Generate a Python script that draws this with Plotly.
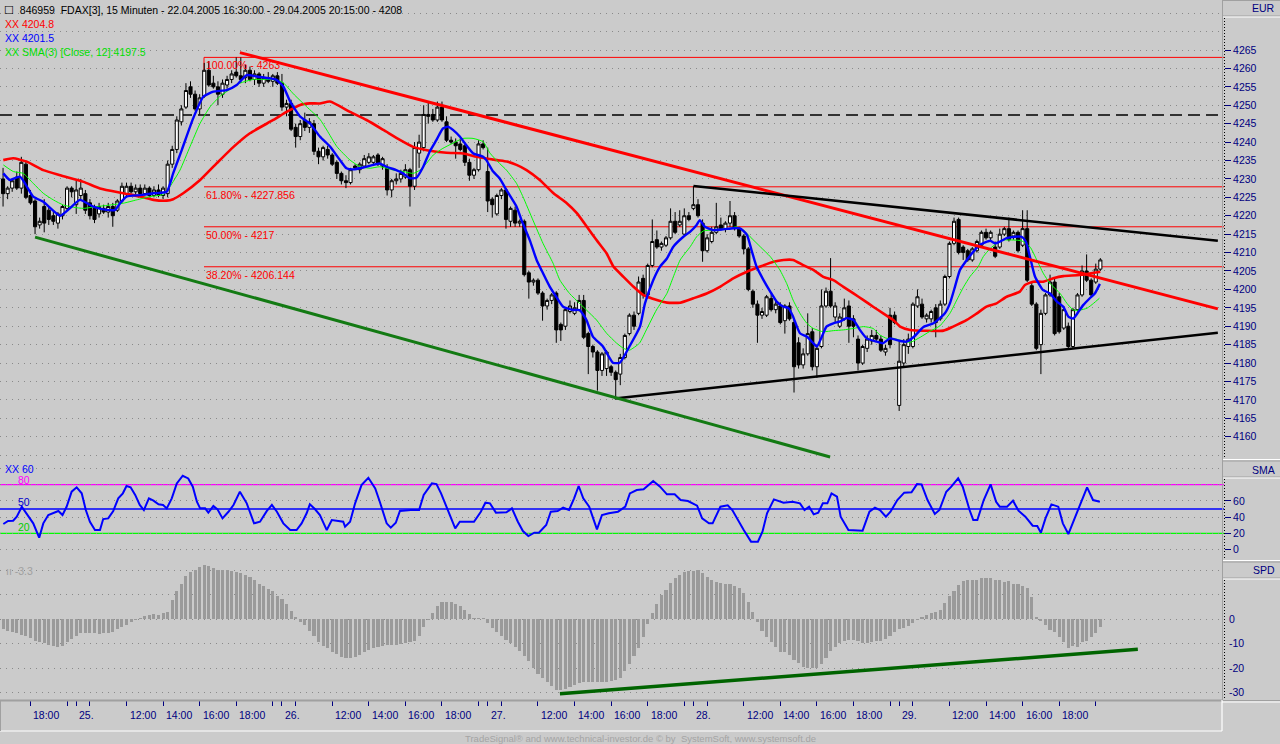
import plotly.graph_objects as go

FONT = "Liberation Sans, Arial, sans-serif"
NAVY = "#000080"
BG = "#CBCBCB"
GRID = "#8A8A8A"

# ---------------- data: 15-minute FDAX bars ----------------
bar_open = [
 4230, 4226, 4227.5, 4230.5, 4227.5, 4234, 4225.5, 4224, 4217.5, 4222.5,
 4221.5, 4220, 4218, 4220, 4222, 4227.5, 4223, 4225.5, 4226, 4223.5,
 4222, 4220.5, 4222, 4221, 4222.5, 4221.5, 4224, 4226, 4228, 4226.5,
 4227.5, 4226, 4227.5, 4225.5, 4227, 4225.5, 4226, 4234, 4238, 4245.5,
 4249.5, 4255, 4253, 4249, 4252.5, 4259.5, 4256, 4255, 4253, 4255.5,
 4257, 4259, 4258, 4257.5, 4259.5, 4257, 4258.5, 4256, 4257.5, 4256.5,
 4258, 4256, 4249.5, 4250.5, 4244, 4241.5, 4246, 4244, 4245, 4237.5,
 4236, 4238, 4236.5, 4234.5, 4231.5, 4229.5, 4229, 4233.5, 4232.5, 4233.5,
 4234.5, 4234.5, 4236.5, 4233.5, 4233, 4227, 4229.5, 4230, 4230.5, 4232.5,
 4228, 4237, 4238.5, 4247.5, 4247.5, 4246, 4249.5, 4245.5, 4240.5, 4240,
 4239.5, 4239, 4234.5, 4231, 4232.5, 4239.5, 4232, 4224.5, 4220.5, 4225.5,
 4227, 4218.5, 4221.5, 4218, 4218.5, 4204.5, 4202, 4202.5, 4199, 4195.5,
 4197, 4199, 4190.5, 4190, 4194, 4193.5, 4194.5, 4197, 4188, 4184.5,
 4183, 4178, 4178.5, 4179, 4177.5, 4177, 4181.5, 4188, 4193, 4193.5,
 4203, 4198.5, 4206.5, 4213.5, 4211.5, 4212, 4214, 4218.5, 4217.5, 4215,
 4220, 4222, 4223, 4218, 4210.5, 4213, 4215.5, 4217.5, 4216.5, 4218,
 4220, 4216.5, 4214.5, 4211, 4199.5, 4196, 4193, 4193, 4197.5, 4194.5,
 4195.5, 4191.5, 4195.5, 4191, 4185.5, 4179.5, 4182.5, 4188.5, 4179, 4184.5,
 4195.5, 4199.5, 4192.5, 4190, 4192, 4195.5, 4192, 4186.5, 4180, 4184,
 4186, 4187.5, 4186.5, 4183, 4193, 4193, 4168.5, 4180, 4184.5, 4184.5,
 4195.5, 4196, 4192, 4192, 4195, 4192, 4196, 4203.5, 4212.5, 4219,
 4211.5, 4210.5, 4208, 4210.5, 4212, 4215.5, 4214, 4211.5, 4211.5, 4215,
 4216.5, 4214.5, 4215.5, 4212, 4216.5, 4201, 4196, 4185, 4193.5, 4198.5,
 4202, 4198, 4189.5, 4190, 4184.5, 4194.5, 4198.5, 4205, 4202.5, 4202,
 4205.5]
bar_high = [
 4233, 4228, 4230, 4232, 4236, 4235, 4227, 4224.5, 4219.5, 4224.5,
 4222.5, 4221, 4221, 4223, 4228, 4228, 4229.5, 4230, 4227, 4224.5,
 4223, 4223.5, 4223, 4223.5, 4223.5, 4224.5, 4229, 4229, 4229, 4228.5,
 4228.5, 4228.5, 4228, 4228, 4228.5, 4228, 4235, 4239, 4247, 4250,
 4256, 4256.5, 4254, 4253, 4261.5, 4262, 4258, 4256.5, 4257, 4258,
 4259.5, 4263, 4263, 4261, 4260.5, 4259.5, 4259, 4258.5, 4259, 4258.5,
 4259, 4258.5, 4251.5, 4251.5, 4245, 4246, 4248, 4246.5, 4246, 4238.5,
 4239, 4239, 4237, 4235, 4232, 4231, 4233, 4234, 4234.5, 4236.5,
 4237, 4236.5, 4237, 4236, 4234, 4230, 4231.5, 4232.5, 4234, 4233,
 4240, 4242, 4250, 4251, 4249, 4251, 4251, 4247, 4241.5, 4241,
 4241, 4240, 4235.5, 4233, 4240.5, 4240.5, 4238.5, 4225, 4226, 4227.5,
 4227.5, 4222.5, 4222.5, 4219, 4219, 4205, 4203, 4203, 4199.5, 4197.5,
 4199, 4199.5, 4191, 4195, 4197, 4196.5, 4198.5, 4198.5, 4188.5, 4185,
 4183.5, 4183, 4183.5, 4179.5, 4178, 4182.5, 4188, 4193.5, 4194, 4203.5,
 4204, 4207, 4219, 4216, 4213, 4214.5, 4222, 4221, 4221.5, 4222,
 4221, 4228, 4224.5, 4219, 4215, 4217, 4223.5, 4219.5, 4218.5, 4224,
 4221, 4217, 4215, 4211.5, 4200, 4197, 4195, 4198.5, 4199, 4197,
 4196.5, 4196, 4196.5, 4192, 4187, 4184, 4193.5, 4189.5, 4185, 4200,
 4200.5, 4208.5, 4196.5, 4193.5, 4197.5, 4197, 4193, 4187.5, 4185, 4187.5,
 4189, 4189, 4187.5, 4185, 4195, 4194, 4186, 4186.5, 4188, 4196.5,
 4200, 4197.5, 4193.5, 4194.5, 4196, 4197, 4204, 4213, 4219.5, 4219.5,
 4212, 4211, 4211.5, 4213.5, 4216, 4216.5, 4216, 4213, 4216.5, 4217,
 4219.5, 4216, 4216, 4221.5, 4221.5, 4202, 4196.5, 4194.5, 4199, 4204,
 4203, 4199, 4195.5, 4191, 4195, 4199, 4206.5, 4209.5, 4203, 4207,
 4208.5]
bar_low = [
 4222.5, 4224.5, 4226.5, 4227, 4226, 4224.5, 4223, 4215, 4216.5, 4215.5,
 4217.5, 4217.5, 4216.5, 4219, 4221.5, 4225, 4220.5, 4224.5, 4220.5, 4219,
 4218, 4219.5, 4220.5, 4219.5, 4217, 4221, 4223.5, 4225, 4226, 4225.5,
 4225.5, 4225.5, 4225, 4225, 4225, 4224.5, 4225, 4233, 4237, 4244.5,
 4249, 4252, 4248.5, 4247.5, 4252, 4255, 4254.5, 4250, 4252, 4254.5,
 4256, 4257.5, 4256, 4256, 4256.5, 4255.5, 4255, 4255, 4256, 4255,
 4255.5, 4248.5, 4247, 4243, 4238.5, 4240.5, 4243, 4242.5, 4236.5, 4234,
 4235, 4235.5, 4233.5, 4230, 4228.5, 4227.5, 4228.5, 4232.5, 4231.5, 4233,
 4234, 4233.5, 4233.5, 4232.5, 4225.5, 4225, 4228.5, 4229, 4230, 4222.5,
 4227, 4233, 4237.5, 4245, 4245.5, 4245.5, 4245.5, 4240, 4239.5, 4235.5,
 4237.5, 4233.5, 4229.5, 4230, 4232, 4238, 4221, 4219.5, 4220, 4224.5,
 4216.5, 4217, 4217, 4217, 4203.5, 4197.5, 4201, 4198.5, 4191.5, 4194.5,
 4196, 4185.5, 4186, 4189, 4193.5, 4193, 4194, 4186.5, 4177, 4181.5,
 4172.5, 4176.5, 4176.5, 4176.5, 4170.5, 4174, 4181, 4187.5, 4189, 4193,
 4197.5, 4197.5, 4206, 4211, 4210.5, 4211.5, 4213.5, 4215, 4217, 4214.5,
 4218.5, 4221.5, 4219.5, 4207.5, 4210, 4212.5, 4215, 4216, 4215.5, 4217,
 4216, 4214, 4209.5, 4199.5, 4195, 4185.5, 4192, 4192.5, 4194, 4193.5,
 4190.5, 4188, 4191.5, 4172, 4178.5, 4178.5, 4182, 4178, 4176, 4184,
 4195, 4195, 4191, 4189.5, 4191.5, 4185.5, 4187, 4178, 4179.5, 4183,
 4185, 4186, 4183, 4182, 4184, 4190.5, 4167, 4179, 4182.5, 4184,
 4195, 4192, 4191, 4191, 4187, 4191.5, 4195.5, 4203, 4212, 4209.5,
 4208, 4207.5, 4207.5, 4210, 4211.5, 4213.5, 4213, 4208.5, 4211, 4214.5,
 4213, 4213.5, 4210, 4211.5, 4202, 4195.5, 4183.5, 4177, 4193, 4198,
 4187.5, 4188, 4189, 4184, 4184, 4194, 4198, 4202, 4198, 4201.5,
 4205]
bar_close = [
 4226, 4227.5, 4229.5, 4227.5, 4234.5, 4225, 4223.5, 4217, 4218.5, 4218,
 4219, 4218.5, 4220.5, 4222.5, 4227.5, 4226.5, 4227, 4227.5, 4221.5, 4220,
 4219, 4222.5, 4221, 4222.5, 4220, 4224, 4228, 4228, 4226.5, 4227.5,
 4226, 4227.5, 4225.5, 4227, 4225.5, 4227.5, 4234, 4238, 4246, 4249,
 4254, 4253, 4249, 4252, 4259.5, 4255.5, 4255, 4253, 4256, 4257,
 4258.5, 4258, 4257, 4259.5, 4257, 4258.5, 4256, 4257.5, 4256.5, 4258,
 4256, 4249.5, 4250.5, 4243.5, 4241.5, 4245, 4244, 4245.5, 4237.5, 4236,
 4238.5, 4236.5, 4234, 4231.5, 4229.5, 4229, 4232.5, 4233, 4234, 4235.5,
 4236, 4236, 4234, 4235.5, 4227, 4229.5, 4230, 4231.5, 4232.5, 4228,
 4238.5, 4240, 4247.5, 4247, 4246, 4249.5, 4246, 4240.5, 4240, 4239,
 4238, 4234.5, 4231, 4232.5, 4239.5, 4238.5, 4224, 4223, 4225.5, 4227,
 4219, 4222, 4218, 4218.5, 4204, 4202, 4202.5, 4199, 4195.5, 4197,
 4198.5, 4189, 4189, 4194.5, 4195.5, 4195, 4197, 4187, 4184.5, 4183,
 4178, 4182.5, 4183, 4177.5, 4175.5, 4181.5, 4187.5, 4193, 4190, 4202,
 4198.5, 4206.5, 4213, 4211.5, 4212.5, 4214, 4218.5, 4215.5, 4218.5, 4220,
 4219, 4223, 4220, 4210.5, 4214, 4215.5, 4217, 4216.5, 4218, 4220,
 4216.5, 4214.5, 4211, 4200, 4196, 4193, 4194, 4198, 4194.5, 4196,
 4191, 4195.5, 4192, 4179, 4179.5, 4182.5, 4188, 4179, 4184, 4195.5,
 4199.5, 4195.5, 4195.5, 4192.5, 4195, 4190, 4190, 4180, 4184.5, 4186.5,
 4187.5, 4186.5, 4183.5, 4184, 4185, 4191, 4180.5, 4185, 4186.5, 4196,
 4198, 4192.5, 4193, 4194, 4191, 4196, 4203.5, 4212.5, 4218.5, 4210,
 4210, 4208, 4211, 4213, 4215.5, 4214, 4215.5, 4209, 4215, 4216.5,
 4213.5, 4215.5, 4210.5, 4216.5, 4202.5, 4196, 4184, 4193.5, 4198.5, 4202,
 4188, 4188.5, 4194.5, 4184.5, 4194.5, 4198.5, 4205, 4202.5, 4198.5, 4205.5,
 4208]

# SPD histogram (one value per bar)
spd_values = [
 -3.9, -4.6, -5.3, -5.7, -6.3, -6.7, -7.6, -8.8, -9.4, -9.9,
 -10.4, -11.0, -11.3, -11.1, -9.4, -8.1, -6.7, -5.7, -5.7, -5.7,
 -5.7, -6.0, -5.7, -5.7, -5.3, -3.9, -3.2, -2.2, -1.1, -0.4,
 0.7, 1.3, 1.7, 2.1, 1.9, 2.4, 3.1, 7.9, 11.4, 14.6,
 17.6, 19.3, 20.4, 21.4, 22.1, 21.8, 21.1, 20.4, 20.0, 20.0,
 19.9, 19.3, 18.8, 18.3, 17.2, 16.0, 14.6, 13.8, 12.4, 11.4,
 9.7, 8.2, 6.3, 3.5, 1.0, -1.1, -2.5, -4.6, -6.7, -9.4,
 -10.8, -11.8, -13.2, -14.3, -15.4, -15.7, -15.7, -15.4, -14.7, -13.6,
 -12.6, -11.8, -11.3, -10.8, -10.7, -10.7, -10.4, -10.1, -9.9, -9.2,
 -8.8, -6.7, -3.2, -0.4, 2.4, 5.4, 7.1, 7.1, 7.1, 6.1,
 5.4, 3.8, 2.1, 0.7, 0.7, 0.7, -1.5, -3.6, -5.3, -6.7,
 -8.5, -9.9, -11.5, -12.9, -15.0, -17.1, -19.9, -22.4, -24.0, -25.7,
 -27.5, -28.9, -29.0, -28.5, -27.9, -26.8, -26.1, -25.7, -25.7, -25.7,
 -25.7, -25.7, -25.7, -25.4, -24.9, -24.0, -21.3, -18.2, -15.0, -11.8,
 -7.1, -2.1, 2.6, 6.3, 9.9, 12.1, 14.9, 16.9, 18.3, 19.3,
 19.6, 19.7, 20.4, 19.0, 17.4, 16.3, 15.1, 14.9, 14.6, 14.3,
 13.8, 12.8, 10.7, 7.2, 3.1, -1.1, -4.9, -7.1, -9.4, -11.3,
 -13.2, -13.6, -14.6, -16.5, -17.8, -19.6, -20.1, -20.1, -19.9, -18.5,
 -15.7, -12.9, -11.3, -9.9, -8.8, -8.5, -8.5, -9.0, -9.9, -9.7,
 -9.4, -9.0, -8.8, -8.1, -6.7, -5.3, -3.9, -3.5, -2.9, -1.5,
 -0.4, 1.0, 1.9, 2.4, 3.1, 4.0, 6.5, 9.6, 11.4, 14.2,
 15.6, 16.3, 16.3, 16.3, 16.9, 16.9, 16.9, 16.0, 16.0, 15.1,
 15.6, 14.6, 14.6, 13.5, 12.8, 9.3, 1.0, -0.7, -2.5, -4.3,
 -5.3, -7.4, -9.4, -11.8, -10.8, -11.3, -9.4, -8.8, -7.1, -5.7,
 -3.3]

# indicator lines (bar position, value)
red_ma_x = [0.05, 2.2, 5.2, 8.8, 12.5, 17.6, 21.2, 26.3, 30.0, 32.9, 35.8, 37.2, 39.4, 43.1, 46.7,
            50.4, 54.0, 59.1, 62.0, 65.0, 67.1, 69.3, 71.5, 75.9, 79.5, 83.2, 86.8, 89.7, 92.7,
            97.0, 100.7, 103.6, 108.0, 110.2, 112.3, 114.5, 117.4, 120.4, 123.3, 125.5, 127.7,
            129.8, 132.0, 133.5, 135.7, 137.9, 140.0, 143.0, 145.2, 148.1, 151.0, 153.9, 156.8,
            159.7, 162.7, 165.6, 168.5, 170.7, 172.8, 175.0, 177.2, 179.4, 181.6, 183.8, 186.0,
            188.2, 190.3, 192.5, 194.7, 196.2, 198.4, 205.7, 207.8, 210.8, 213.0, 215.1, 217.3,
            219.5, 222.4, 223.5, 225.3, 227.5, 229.7, 231.9, 235.5, 240.0]
red_ma_y = [4235.1, 4235.6, 4234.7, 4232.4, 4231.0, 4229.2, 4227.4, 4226.1, 4225.2, 4224.3, 4224.1,
            4224.5, 4226.1, 4229.7, 4234.2, 4238.7, 4242.4, 4246.0, 4248.2, 4250.1, 4250.5, 4250.5,
            4251.0, 4248.2, 4246.0, 4243.3, 4240.6, 4238.7, 4237.8, 4237.1, 4236.9, 4236.0, 4235.1,
            4234.7, 4233.8, 4232.4, 4229.7, 4226.1, 4223.4, 4220.7, 4217.0, 4213.4, 4209.8, 4206.2,
            4203.4, 4200.7, 4198.5, 4197.1, 4196.4, 4196.4, 4197.6, 4198.9, 4200.7, 4203.0, 4204.8,
            4206.2, 4207.5, 4208.0, 4208.0, 4206.6, 4205.3, 4203.4, 4202.5, 4200.7, 4198.9, 4197.1,
            4195.3, 4193.5, 4191.7, 4189.9, 4189.0, 4188.8, 4189.9, 4191.7, 4193.5, 4195.3, 4196.2,
            4198.0, 4199.4, 4201.2, 4202.1, 4202.1, 4203.0, 4203.6, 4203.9, 4204.8]

blue_ma_x = [0.06, 1.5, 3.7, 6.6, 8.8, 12.5, 14.6, 16.8, 19.7, 22.7, 24.5, 25.6, 27.0, 30.0, 32.9,
             35.8, 37.2, 39.1, 41.6, 43.8, 46.0, 48.9, 51.1, 53.3, 55.5, 58.4, 59.8, 61.3, 62.8,
             65.0, 67.1, 69.3, 71.5, 73.7, 75.1, 76.6, 78.8, 82.4, 83.8, 86.0, 87.5, 88.9, 90.4,
             91.9, 93.3, 94.8, 96.2, 97.3, 98.4, 99.9, 101.3, 102.8, 105.0, 105.7, 107.2, 108.6,
             110.1, 112.3, 113.4, 115.2, 116.7, 118.1, 119.6, 121.0, 122.5, 124.7, 126.1, 127.6,
             129.0, 131.2, 133.4, 134.9, 137.0, 139.3, 140.4, 142.2, 143.7, 145.2, 146.6, 148.8,
             150.3, 151.7, 152.4, 153.5, 155.3, 157.5, 159.7, 161.2, 162.7, 163.7, 164.8, 166.3,
             167.8, 169.2, 170.7, 171.8, 172.8, 174.3, 175.8, 177.2, 178.0, 179.1, 180.1, 181.6,
             183.1, 184.5, 186.0, 187.4, 188.9, 191.1, 192.5, 194.0, 196.2, 197.6, 199.3, 201.3,
             203.5, 204.9, 206.0, 207.1, 208.2, 209.3, 210.8, 212.2, 213.7, 215.9, 217.0, 218.1,
             219.5, 221.3, 222.8, 223.7, 224.6, 225.7, 227.5, 229.0, 230.5, 231.9, 233.0, 234.1,
             235.2, 236.3, 237.7, 238.8, 239.9]
blue_ma_y = [4231.5, 4229.7, 4230.6, 4225.2, 4223.8, 4220.0, 4222.0, 4224.3, 4222.5, 4221.6, 4221.6,
             4223.4, 4225.2, 4225.6, 4226.1, 4226.5, 4231.5, 4237.9, 4246.5, 4252.3, 4253.7, 4254.1,
             4255.5, 4258.2, 4257.8, 4257.3, 4256.9, 4255.1, 4251.0, 4246.9, 4245.1, 4241.5, 4238.8,
             4235.1, 4232.9, 4232.6, 4233.1, 4234.2, 4233.3, 4232.4, 4231.5, 4230.2, 4230.3, 4233.3,
             4237.4, 4240.6, 4243.7, 4244.2, 4243.3, 4241.5, 4239.2, 4237.0, 4236.0, 4235.1, 4232.0,
             4230.2, 4227.0, 4222.5, 4218.8, 4213.4, 4208.0, 4204.4, 4200.7, 4198.0, 4195.3, 4194.4,
             4194.4, 4191.7, 4187.2, 4184.5, 4180.1, 4180.1, 4184.5, 4189.9, 4196.2, 4202.5, 4206.2,
             4208.4, 4211.6, 4214.3, 4215.7, 4217.5, 4218.8, 4217.0, 4216.1, 4216.3, 4216.6, 4216.6,
             4214.8, 4210.7, 4206.2, 4202.6, 4199.4, 4196.7, 4195.3, 4194.9, 4192.6, 4188.1, 4187.2,
             4185.4, 4184.5, 4187.2, 4189.9, 4190.8, 4191.3, 4192.2, 4191.7, 4189.0, 4186.7, 4185.8,
             4185.4, 4186.7, 4186.0, 4185.8, 4187.2, 4189.8, 4190.8, 4192.2, 4193.5, 4196.2, 4200.7,
             4205.3, 4208.0, 4210.2, 4212.1, 4213.2, 4212.5, 4213.0, 4213.9, 4214.3, 4214.3, 4213.0,
             4208.9, 4203.5, 4199.8, 4198.9, 4196.7, 4195.3, 4192.6, 4192.1, 4193.9, 4195.8, 4197.6,
             4198.9, 4201.5]

green_ma_x = [0.06, 2.25, 4.4, 6.6, 8.8, 11.0, 13.2, 15.4, 17.6, 20.5, 23.4, 26.3, 29.2, 32.1, 35.1,
              36.5, 38.7, 40.9, 43.1, 45.3, 47.5, 49.6, 51.8, 54.7, 57.7, 59.8, 61.3, 63.5, 66.4,
              69.3, 70.8, 73.0, 75.9, 78.1, 80.3, 82.4, 85.4, 87.5, 89.7, 91.2, 92.6, 94.1, 96.2,
              98.4, 100.6, 102.8, 105.0, 106.5, 108.6, 110.1, 112.3, 113.7, 115.9, 118.1, 120.3,
              121.8, 123.9, 126.1, 127.6, 129.8, 132.0, 134.2, 135.7, 137.0, 139.2, 140.7, 142.9,
              145.2, 146.6, 148.1, 150.3, 151.7, 153.2, 155.3, 159.0, 160.4, 161.9, 163.4, 165.6,
              167.8, 169.9, 171.4, 172.8, 174.3, 175.8, 177.2, 179.4, 181.6, 183.8, 186.0, 188.2,
              190.3, 191.8, 193.3, 194.7, 196.9, 198.4, 200.6, 202.7, 204.9, 207.1, 208.6, 210.1,
              211.5, 213.3, 214.4, 215.9, 217.3, 218.8, 221.0, 222.8, 224.6, 226.1, 227.5, 229.0,
              231.2, 232.7, 234.1, 235.6, 237.1, 238.5, 239.8]
green_ma_y = [4233.8, 4232.0, 4231.5, 4228.8, 4226.1, 4224.3, 4222.9, 4222.3, 4222.0, 4222.5, 4222.9,
              4223.4, 4224.3, 4225.2, 4225.8, 4227.9, 4232.4, 4238.8, 4245.1, 4249.6, 4252.5, 4254.3,
              4256.0, 4257.0, 4257.0, 4256.9, 4256.1, 4253.1, 4249.6, 4246.2, 4243.3, 4238.8, 4235.1,
              4233.3, 4232.9, 4233.3, 4232.4, 4232.0, 4231.5, 4232.4, 4234.2, 4236.5, 4238.3, 4239.7,
              4241.0, 4241.0, 4240.1, 4237.0, 4234.2, 4232.4, 4228.8, 4225.2, 4218.8, 4212.5, 4207.1,
              4202.5, 4198.9, 4196.2, 4194.4, 4191.7, 4188.1, 4185.4, 4184.0, 4183.5, 4185.4, 4189.0,
              4194.4, 4198.9, 4203.4, 4208.0, 4211.6, 4214.3, 4215.9, 4216.1, 4216.6, 4217.0, 4216.1,
              4214.3, 4211.6, 4208.9, 4205.3, 4201.6, 4197.1, 4193.5, 4190.8, 4189.4, 4188.5, 4188.8,
              4189.0, 4189.4, 4189.9, 4189.4, 4187.6, 4186.7, 4186.7, 4186.0, 4185.6, 4187.0, 4188.6,
              4190.1, 4193.5, 4197.1, 4200.7, 4203.5, 4206.2, 4208.9, 4211.1, 4212.5, 4213.4, 4213.4,
              4213.2, 4211.6, 4208.0, 4204.4, 4201.6, 4198.9, 4196.2, 4194.4, 4194.4, 4194.9, 4196.2,
              4197.6]

# SMA oscillator (lower panel 1)
osc_x = [0.06, 1.1, 2.2, 3.0, 4.1, 5.2, 6.6, 7.9, 8.8, 9.9, 11.4, 12.1, 13.0, 13.9, 15.0, 16.1,
         17.2, 18.1, 19.0, 20.1, 21.2, 21.9, 23.0, 24.1, 25.2, 26.2, 27.0, 27.9, 28.9, 29.9, 30.8,
         31.9, 32.9, 34.0, 35.0, 35.8, 36.9, 38.0, 39.3, 40.5, 41.5, 42.4, 43.1, 44.2, 44.9, 46.0,
         46.9, 48.0, 49.3, 50.4, 51.8, 53.3, 54.9, 56.2, 57.7, 58.8, 59.9, 61.3, 62.8, 64.2, 65.3,
         66.4, 67.1, 68.2, 69.3, 70.8, 71.9, 73.0, 74.4, 74.8, 75.9, 77.0, 78.4, 79.9, 81.4, 82.4,
         83.9, 84.8, 85.9, 86.8, 89.2, 91.0, 92.0, 93.8, 94.8, 95.8, 97.4, 98.9, 99.9, 103.0,
         104.5, 105.5, 106.5, 107.8, 110.1, 111.3, 112.6, 113.7, 114.9, 116.2, 117.2, 118.8, 119.8,
         121.3, 122.5, 123.8, 124.9, 125.9, 126.9, 128.2, 129.9, 131.0, 132.5, 134.5, 136.1, 137.1,
         138.6, 140.1, 142.2, 143.7, 145.2, 146.9, 148.2, 149.8, 151.8, 152.9, 154.4, 155.2, 156.9,
         158.5, 159.5, 160.5, 162.0, 163.6, 165.1, 166.1, 167.1, 168.6, 170.7, 172.7, 174.3, 175.3,
         176.3, 177.3, 178.3, 179.3, 180.3, 181.2, 182.4, 183.2, 184.9, 188.0, 189.5, 190.7, 191.8,
         193.1, 194.1, 195.6, 197.1, 198.7, 199.9, 200.9, 202.2, 203.8, 204.8, 206.3, 207.4, 208.9,
         209.9, 211.4, 212.2, 213.1, 214.5, 216.0, 217.2, 218.0, 219.6, 220.9, 222.1, 223.6, 225.2,
         226.2, 227.0, 228.0, 229.3, 230.8, 231.8, 233.0, 234.1, 235.1, 237.1, 238.4, 239.9]
osc_y = [31.5, 35.2, 35.6, 40.4, 52.8, 43.4, 32.3, 14.6, 32.3, 42.6, 45.5, 47.6, 42.6, 52.8, 71.4,
         76.8, 69.4, 48.7, 34.3, 24.0, 24.0, 37.6, 38.4, 47.6, 63.2, 69.4, 78.4, 76.8, 67.4, 55.0,
         48.7, 63.2, 60.3, 55.8, 55.0, 50.8, 63.2, 81.6, 91.1, 87.8, 77.5, 59.0, 50.8, 50.8, 45.5,
         53.7, 49.6, 38.4, 46.6, 55.0, 71.4, 57.0, 32.3, 34.3, 47.6, 55.0, 46.6, 32.3, 24.0, 24.0,
         32.3, 44.7, 55.8, 50.0, 42.6, 24.0, 36.3, 35.6, 34.3, 28.2, 34.3, 57.0, 79.6, 88.6, 75.5,
         59.0, 32.3, 27.0, 33.0, 47.5, 48.8, 48.8, 67.3, 81.7, 80.8, 69.3, 46.7, 26.1, 34.3, 34.3,
         46.7, 57.8, 57.0, 45.5, 45.9, 50.8, 34.3, 22.8, 16.6, 20.7, 20.7, 30.2, 46.7, 47.5, 51.6,
         48.8, 63.2, 78.4, 63.2, 52.9, 24.9, 42.6, 44.7, 46.7, 52.9, 69.3, 73.5, 74.3, 84.6, 77.6,
         68.1, 68.1, 61.1, 59.8, 54.1, 38.5, 32.3, 32.3, 52.9, 54.5, 48.8, 38.5, 24.1, 9.7, 9.7,
         22.0, 44.7, 61.9, 57.8, 59.0, 57.0, 48.8, 52.9, 43.4, 45.5, 57.0, 57.0, 69.3, 65.2, 40.5,
         24.1, 23.3, 46.7, 51.6, 48.8, 40.5, 46.7, 61.1, 70.2, 70.6, 80.8, 80.4, 61.1, 43.8, 48.8,
         71.4, 77.6, 87.9, 77.6, 48.8, 36.5, 36.5, 61.1, 80.4, 59.0, 52.9, 52.9, 60.3, 47.9, 40.5,
         29.4, 29.0, 20.7, 38.5, 55.7, 52.9, 32.3, 19.1, 34.3, 48.8, 76.8, 61.1, 59.0]
osc_levels = [80, 50, 20]
osc_level_colors = ["#FF00FF", "#0000FF", "#00FF00"]

# drawing tools: trend lines (bar position, price) and Fibonacci levels
trend_red = ([51.8, 265.7], [4264.3, 4194.7])
trend_black_top = ([151.0, 265.7], [4228.1, 4213.2])
trend_black_bottom = ([133.8, 265.7], [4170.4, 4188.2])
trend_green = ([7.0, 180.9], [4214.2, 4154.5])
trend_spd = ([121.8, 248.2], [-30.5, -12.3])
fib_start = 43.95
fib_levels = [4263, 4227.856, 4217, 4206.144]
fib_labels = ["100.00% - 4263", "61.80% - 4227.856", "50.00% - 4217", "38.20% - 4206.144"]
dashed_level = 4247.35

# time axis
tick_index = [6, 14,
              16, 19, 27, 35, 43, 51, 59,
              61, 64, 72, 80, 88, 96, 104,
              106, 109, 117, 125, 133, 141, 149,
              151, 154, 162, 170, 178, 186, 194,
              196, 199, 207, 215, 223, 231, 239]
tick_text = ["18:00", "",
             "25.", "", "12:00", "14:00", "16:00", "18:00", "",
             "26.", "", "12:00", "14:00", "16:00", "18:00", "",
             "27.", "", "12:00", "14:00", "16:00", "18:00", "",
             "28.", "", "12:00", "14:00", "16:00", "18:00", "",
             "29.", "", "12:00", "14:00", "16:00", "18:00", ""]
price_ticks = list(range(4160, 4270, 5))

bar_index = list(range(len(bar_close)))

# ---------------- geometry ----------------
W, H = 1280, 744
PW, PH = 1224, 700


def px(X):
    return X / PW


def py(Y):
    return (PH - Y) / PH


X_LO = (0 - 3.06) / 4.572
X_HI = (PW - 3.06) / 4.572

fig = go.Figure()

fig.add_trace(go.Candlestick(
    x=bar_index, open=bar_open, high=bar_high, low=bar_low, close=bar_close,
    increasing=dict(line=dict(color="black", width=1), fillcolor="white"),
    decreasing=dict(line=dict(color="black", width=1), fillcolor="black"),
    whiskerwidth=0, xaxis="x", yaxis="y", hoverinfo="skip", showlegend=False))

fig.add_trace(go.Scatter(x=red_ma_x, y=red_ma_y, mode="lines", xaxis="x", yaxis="y",
                         line=dict(color="#FF0000", width=2.6, shape="spline", smoothing=0.5),
                         hoverinfo="skip"))
fig.add_trace(go.Scatter(x=green_ma_x, y=green_ma_y, mode="lines", xaxis="x", yaxis="y",
                         line=dict(color="#00FF00", width=1, shape="spline", smoothing=0.5),
                         hoverinfo="skip"))
fig.add_trace(go.Scatter(x=blue_ma_x, y=blue_ma_y, mode="lines", xaxis="x", yaxis="y",
                         line=dict(color="#0000FF", width=2.4, shape="spline", smoothing=0.5),
                         hoverinfo="skip"))
for (tx, ty), col, wd in [(trend_red, "#FF0000", 3), (trend_black_top, "#000000", 2.5),
                          (trend_black_bottom, "#000000", 2.5), (trend_green, "#137A13", 3)]:
    fig.add_trace(go.Scatter(x=tx, y=ty, mode="lines", xaxis="x", yaxis="y",
                             line=dict(color=col, width=wd), hoverinfo="skip"))

fig.add_trace(go.Scatter(x=osc_x, y=osc_y, mode="lines", xaxis="x2", yaxis="y2",
                         line=dict(color="#0000FF", width=2), hoverinfo="skip"))

fig.add_trace(go.Bar(x=bar_index, y=spd_values, xaxis="x3", yaxis="y3", width=0.68,
                     marker=dict(color="#9A9A9A", line=dict(width=0)), hoverinfo="skip"))
fig.add_trace(go.Scatter(x=trend_spd[0], y=trend_spd[1], mode="lines", xaxis="x3", yaxis="y3",
                         line=dict(color="#006400", width=3.5), hoverinfo="skip"))

tickfont = dict(family=FONT, size=10.5, color=NAVY)
griddef = dict(showgrid=True, gridcolor=GRID, griddash="1px,5px", gridwidth=1)
xcommon = dict(range=[X_LO, X_HI], showgrid=False, zeroline=False, showline=False,
               showticklabels=False, fixedrange=True)

fig.update_layout(
    width=W, height=H, margin=dict(l=0, r=W - PW, t=0, b=H - PH),
    paper_bgcolor=BG, plot_bgcolor=BG, showlegend=False, bargap=0,
    boxgap=0.25, boxgroupgap=0.1,
    xaxis=dict(domain=[0, 1], anchor="y", ticks="", rangeslider=dict(visible=False), **xcommon),
    xaxis2=dict(domain=[0, 1], anchor="y2", matches="x", ticks="", **xcommon),
    xaxis3=dict(domain=[0, 1], anchor="y3", matches="x", ticks="outside", ticklen=5,
                tickwidth=1, tickcolor=NAVY, tickmode="array", tickvals=tick_index,
                ticktext=[""] * len(tick_index), **xcommon),
    yaxis=dict(domain=[py(459), 1], anchor="x", side="right",
               range=[4153.95, 4278.58], tickmode="array", tickvals=price_ticks,
               ticktext=[str(v) for v in price_ticks], ticks="outside", ticklen=6,
               tickwidth=1, tickcolor=NAVY, tickfont=tickfont, zeroline=False, showline=False,
               fixedrange=True,
               minor=dict(tickmode="linear", tick0=4155, dtick=5, ticks="", **griddef),
               **griddef),
    yaxis2=dict(domain=[py(558), py(461)], anchor="x2", side="right", range=[-10.5, 109.3],
                tickmode="array", tickvals=[0, 20, 40, 60], ticktext=["0", "20", "40", "60"],
                ticks="outside", ticklen=6, tickwidth=1, tickcolor=NAVY, tickfont=tickfont,
                zeroline=False, showline=False, fixedrange=True,
                minor=dict(tickmode="linear", tick0=0, dtick=20, ticks="", **griddef),
                **griddef),
    yaxis3=dict(domain=[0, py(562)], anchor="x3", side="right", range=[-33.07, 23.48],
                tickmode="array", tickvals=[0, -10, -20, -30], ticktext=["0", "-10", "-20", "-30"],
                ticks="", tickfont=tickfont, ticklabelstandoff=4, zeroline=False,
                showline=False, fixedrange=True,
                minor=dict(tickmode="linear", tick0=0, dtick=10, ticks="", **griddef),
                **griddef),
)

shapes = []


def pline(x0, y0, x1, y1, color, width=1, dash=None, layer="above"):
    d = dict(type="line", xref="paper", yref="paper", x0=px(x0), y0=py(y0), x1=px(x1), y1=py(y1),
             line=dict(color=color, width=width), layer=layer)
    if dash:
        d["line"]["dash"] = dash
    shapes.append(d)


# oscillator levels
for lv, col in zip(osc_levels, osc_level_colors):
    shapes.append(dict(type="line", xref="paper", yref="y2", x0=0, x1=1, y0=lv, y1=lv,
                       line=dict(color=col, width=1.3), layer="below"))
# Fibonacci levels
for lv in fib_levels:
    shapes.append(dict(type="line", xref="x", yref="y", x0=fib_start, x1=X_HI, y0=lv, y1=lv,
                       line=dict(color="#FF0000", width=1), layer="below"))
shapes.append(dict(type="line", xref="x", yref="y", x0=fib_start, x1=fib_start,
                   y0=fib_levels[0], y1=fib_levels[0] - 4.5,
                   line=dict(color="#FF0000", width=1), layer="below"))
# dashed horizontal
shapes.append(dict(type="line", xref="paper", yref="y", x0=0, x1=px(1218), y0=dashed_level,
                   y1=dashed_level, line=dict(color="#000000", width=1.3, dash="12px,6px"),
                   layer="below"))

# right column frame
pline(1222.5, 0, 1222.5, 700, "#A0A0A0", 1)
for (t, b) in [(0.5, 16), (461, 477), (562, 578)]:
    pline(1223, t, 1280, t, "#A0A0A0", 1)
    pline(1223, b, 1280, b, "#A0A0A0", 1)
    pline(1223, b + 1, 1280, b + 1, "#FFFFFF", 1)
pline(1223, 459.5, 1280, 459.5, "#FFFFFF", 1)
pline(1223, 560.5, 1280, 560.5, "#FFFFFF", 1)
# dotted axis lines
for (t, b) in [(18, 459), (479, 559), (580, 700)]:
    pline(1224.5, t, 1224.5, b, "#000000", 1, dash="1px,2px")
# time-axis row frame
pline(0, 700.5, 1222, 700.5, "#A0A0A0", 2)
pline(1222, 700.5, 1280, 700.5, "#A0A0A0", 1)
pline(1222, 702, 1280, 702, "#FFFFFF", 1)
pline(0, 731, 1222, 731, "#FFFFFF", 1.2)
pline(1222, 700, 1222, 731, "#FFFFFF", 1.2)
pline(0.5, 700, 0.5, 731, "#A0A0A0", 1)

annotations = []


def ptext(text, X, Y, color, size=10.5, xanchor="left"):
    annotations.append(dict(text=text, xref="paper", yref="paper", x=px(X), y=py(Y),
                            xanchor=xanchor, yanchor="middle", showarrow=False,
                            font=dict(family=FONT, size=size, color=color)))


ptext("\u2610\u00a0\u00a0846959\u00a0\u00a0FDAX[3], 15 Minuten - 22.04.2005 16:30:00 - "
      "29.04.2005 20:15:00 - 4208", 2, 10, "#000000")
ptext("XX 4204.8", 3, 24, "#FF0000")
ptext("XX 4201.5", 3, 38, "#0000FF")
ptext("XX SMA(3) [Close, 12]:4197.5", 3, 52, "#00DD00")
ptext("XX 60", 3, 469, "#0000FF")
ptext("80", 16, 480, "#FF00FF")
ptext("50", 16, 502, "#0000CC")
ptext("20", 16, 527, "#00CC00")
ptext("\u0131\u0131 -3.3", 4, 571, "#A0A0A0")
ptext("EUR", 1277, 8.5, NAVY, xanchor="right")
ptext("SMA", 1277, 469.5, NAVY, xanchor="right")
ptext("SPD", 1277, 570, NAVY, xanchor="right")
ptext("TradeSignal\u00ae and www.technical-investor.de \u00a9 by\u00a0\u00a0SystemSoft, "
      "www.systemsoft.de", 640, 738, "#A4A4A4", size=9.5, xanchor="center")

for lv, lab in zip(fib_levels, fib_labels):
    annotations.append(dict(text=lab, xref="x", yref="y", x=fib_start, y=lv, xanchor="left",
                            yanchor="middle", yshift=-8, xshift=0, showarrow=False,
                            font=dict(family=FONT, size=10.5, color="#FF0000")))

for ti, tt in zip(tick_index, tick_text):
    if tt:
        annotations.append(dict(text=tt, xref="x", yref="paper", x=ti, y=py(715),
                                xanchor="left", yanchor="middle", xshift=1, showarrow=False,
                                font=dict(family=FONT, size=10.5, color=NAVY)))

fig.update_layout(shapes=shapes, annotations=annotations)

fig.write_html("out.html", config={"displayModeBar": False, "staticPlot": True},
               post_script="document.body.style.margin='0';document.body.style.overflow='hidden';")
